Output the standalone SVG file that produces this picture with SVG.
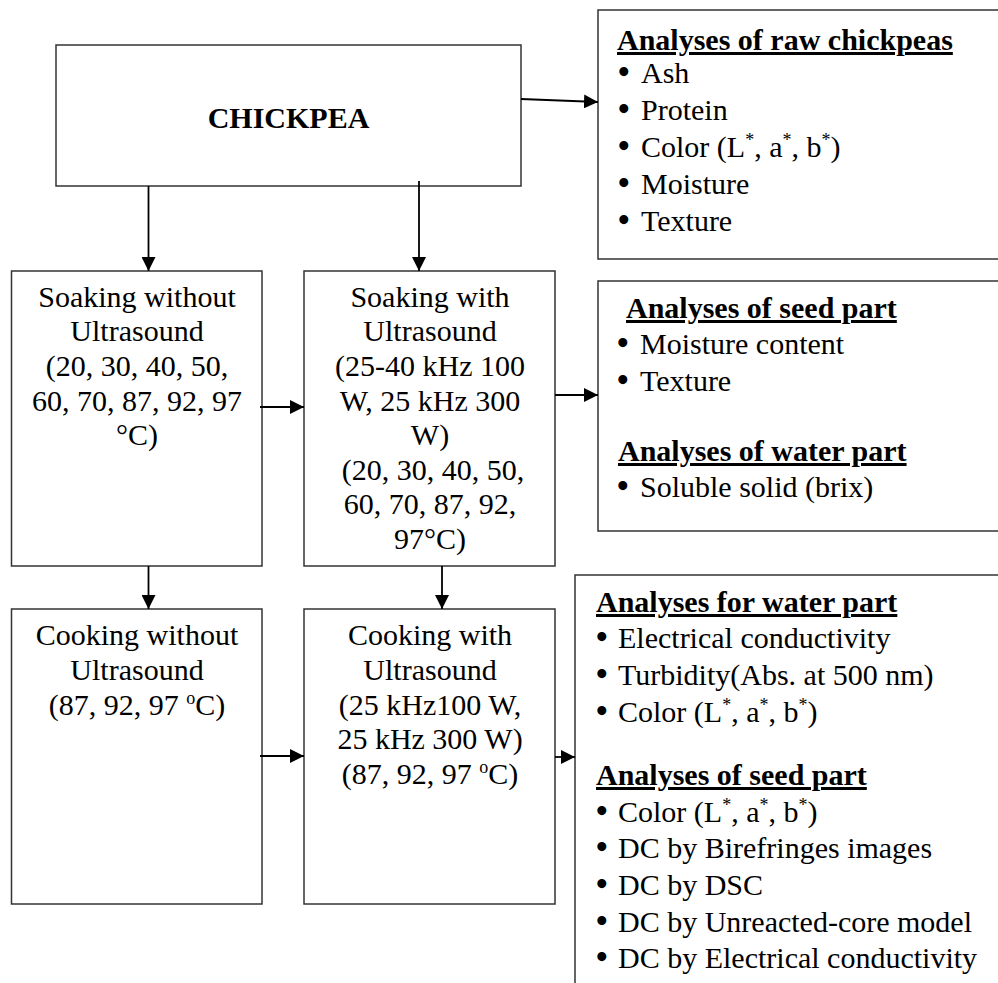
<svg xmlns="http://www.w3.org/2000/svg" width="998" height="983" viewBox="0 0 998 983">
<style>
  .box { fill: #fff; stroke: #333; stroke-width: 1.5; }
  .t { font-family: "Liberation Serif", "Times New Roman", serif; font-size: 30px; fill: #000; }
  .bl { font-size: 33px; font-weight: bold; }
  .c { text-anchor: middle; }
  .h { font-weight: bold; text-decoration: underline; }
  .con { stroke: #000; stroke-width: 1.8; fill: none; marker-end: url(#arr); }
  .sup { font-size: 18px; }
</style>
<defs>
  <marker id="arr" markerUnits="userSpaceOnUse" markerWidth="14" markerHeight="14" refX="14" refY="7" orient="auto">
    <path d="M0,0 L14,7 L0,14 Z" fill="#000"/>
  </marker>
</defs>

<g id="chickpea">
  <rect class="box" x="56" y="45" width="465" height="141"/>
  <text class="t c" x="288.5" y="128" font-weight="bold" font-size="27">CHICKPEA</text>
</g>

<g id="raw-analyses">
  <rect class="box" x="598" y="10" width="420" height="249"/>
  <text class="t h" x="617" y="50">Analyses of raw chickpeas</text>
  <text class="t" x="618" y="83"><tspan class="bl">•</tspan><tspan x="641">Ash</tspan></text>
  <text class="t" x="618" y="120"><tspan class="bl">•</tspan><tspan x="641">Protein</tspan></text>
  <text class="t" x="618" y="157"><tspan class="bl">•</tspan><tspan x="641">Color (L</tspan><tspan class="sup" dy="-11">*</tspan><tspan dy="11">, a</tspan><tspan class="sup" dy="-11">*</tspan><tspan dy="11">, b</tspan><tspan class="sup" dy="-11">*</tspan><tspan dy="11">)</tspan></text>
  <text class="t" x="618" y="194"><tspan class="bl">•</tspan><tspan x="641">Moisture</tspan></text>
  <text class="t" x="618" y="231"><tspan class="bl">•</tspan><tspan x="641">Texture</tspan></text>
</g>

<g id="soak-without">
  <rect class="box" x="11.5" y="271" width="250.5" height="295"/>
  <text class="t c" x="137" y="307">Soaking without</text>
  <text class="t c" x="137" y="341">Ultrasound</text>
  <text class="t c" x="137" y="376">(20, 30, 40, 50,</text>
  <text class="t c" x="137" y="411">60, 70, 87, 92, 97</text>
  <text class="t c" x="137" y="445">°C)</text>
</g>

<g id="soak-with">
  <rect class="box" x="304" y="271" width="251" height="295"/>
  <text class="t c" x="430" y="307">Soaking with</text>
  <text class="t c" x="430" y="341">Ultrasound</text>
  <text class="t c" x="430" y="376">(25-40 kHz 100</text>
  <text class="t c" x="430" y="411">W, 25 kHz 300</text>
  <text class="t c" x="430" y="445">W)</text>
  <text class="t c" x="433" y="480">(20, 30, 40, 50,</text>
  <text class="t c" x="430" y="514">60, 70, 87, 92,</text>
  <text class="t c" x="430" y="549">97°C)</text>
</g>

<g id="soak-analyses">
  <rect class="box" x="598" y="281" width="420" height="250"/>
  <text class="t h" x="626" y="318">Analyses of seed part</text>
  <text class="t" x="617" y="354"><tspan class="bl">•</tspan><tspan x="640">Moisture content</tspan></text>
  <text class="t" x="617" y="391"><tspan class="bl">•</tspan><tspan x="640">Texture</tspan></text>
  <text class="t h" x="618" y="461">Analyses of water part</text>
  <text class="t" x="617" y="497"><tspan class="bl">•</tspan><tspan x="640">Soluble solid (brix)</tspan></text>
</g>

<g id="cook-without">
  <rect class="box" x="11.5" y="609" width="250.5" height="295"/>
  <text class="t c" x="137" y="645">Cooking without</text>
  <text class="t c" x="137" y="680">Ultrasound</text>
  <text class="t c" x="137" y="715">(87, 92, 97 <tspan class="sup" dy="-11">o</tspan><tspan dy="11">C)</tspan></text>
</g>

<g id="cook-with">
  <rect class="box" x="304" y="609" width="251" height="295"/>
  <text class="t c" x="430" y="645">Cooking with</text>
  <text class="t c" x="430" y="680">Ultrasound</text>
  <text class="t c" x="430" y="715">(25 kHz100 W,</text>
  <text class="t c" x="430" y="749">25 kHz 300 W)</text>
  <text class="t c" x="430" y="784">(87, 92, 97 <tspan class="sup" dy="-11">o</tspan><tspan dy="11">C)</tspan></text>
</g>

<g id="cook-analyses">
  <rect class="box" x="575" y="575" width="440" height="420"/>
  <text class="t h" x="596" y="612">Analyses for water part</text>
  <text class="t" x="596" y="648"><tspan class="bl">•</tspan><tspan x="618">Electrical conductivity</tspan></text>
  <text class="t" x="596" y="685"><tspan class="bl">•</tspan><tspan x="618">Turbidity(Abs. at 500 nm)</tspan></text>
  <text class="t" x="596" y="722"><tspan class="bl">•</tspan><tspan x="618">Color (L</tspan><tspan class="sup" dy="-11">*</tspan><tspan dy="11">, a</tspan><tspan class="sup" dy="-11">*</tspan><tspan dy="11">, b</tspan><tspan class="sup" dy="-11">*</tspan><tspan dy="11">)</tspan></text>
  <text class="t h" x="596" y="785">Analyses of seed part</text>
  <text class="t" x="596" y="822"><tspan class="bl">•</tspan><tspan x="618">Color (L</tspan><tspan class="sup" dy="-11">*</tspan><tspan dy="11">, a</tspan><tspan class="sup" dy="-11">*</tspan><tspan dy="11">, b</tspan><tspan class="sup" dy="-11">*</tspan><tspan dy="11">)</tspan></text>
  <text class="t" x="596" y="858"><tspan class="bl">•</tspan><tspan x="618">DC by Birefringes images</tspan></text>
  <text class="t" x="596" y="895"><tspan class="bl">•</tspan><tspan x="618">DC by DSC</tspan></text>
  <text class="t" x="596" y="932"><tspan class="bl">•</tspan><tspan x="618">DC by Unreacted-core model</tspan></text>
  <text class="t" x="596" y="968"><tspan class="bl">•</tspan><tspan x="618">DC by Electrical conductivity</tspan></text>
</g>

<g id="connectors">
  <line class="con" x1="521" y1="99" x2="598" y2="102"/>
  <line class="con" x1="148.5" y1="186" x2="148.5" y2="271"/>
  <line class="con" x1="419" y1="181" x2="419" y2="271"/>
  <line class="con" x1="260" y1="407" x2="304" y2="407"/>
  <line class="con" x1="555" y1="395" x2="598" y2="395"/>
  <line class="con" x1="148.5" y1="566" x2="148.5" y2="609"/>
  <line class="con" x1="442" y1="566" x2="442" y2="609"/>
  <line class="con" x1="260" y1="756" x2="304" y2="756"/>
  <line class="con" x1="555" y1="757" x2="575" y2="757"/>
</g>
</svg>
